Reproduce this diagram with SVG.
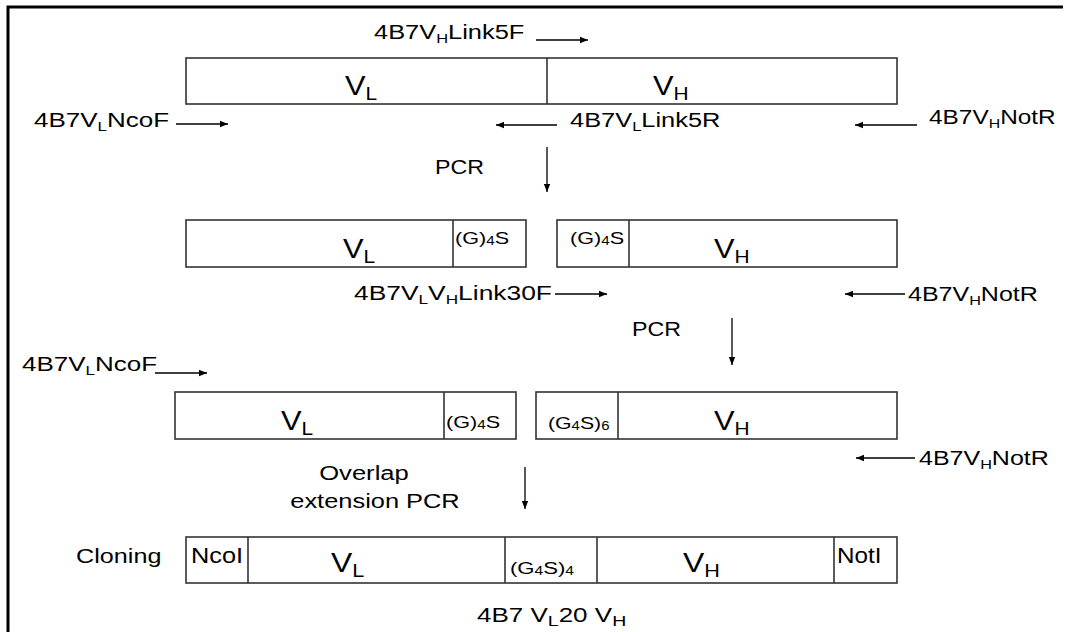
<svg xmlns="http://www.w3.org/2000/svg" width="1066" height="632" viewBox="0 0 1066 632">
<defs>
<marker id="ah" viewBox="0 0 10 10" refX="10" refY="5" markerWidth="11" markerHeight="8" markerUnits="userSpaceOnUse" orient="auto">
<path d="M0,1 L10,5 L0,9 z" fill="#000"/>
</marker>
<style>
.box{fill:#fff;stroke:#333;stroke-width:1.6}
.div{stroke:#333;stroke-width:1.6}
text{font-family:"Liberation Sans",Arial,sans-serif;fill:#000}
.t{font-size:20px}
.big{font-size:28px}
.sm{font-size:17px}
.md{font-size:22px}
.s{font-size:13px}
.bs{font-size:19px}
.ss{font-size:12px}
.c line{stroke:#000;stroke-width:1.3;marker-end:url(#ah)}
</style>
</defs>
<rect width="1066" height="632" fill="#fff"/>
<path d="M8,632 V7 H1063" fill="none" stroke="#000" stroke-width="3"/>

<!-- Row 1 -->
<g id="row1-construct">
<rect class="box" x="186" y="58" width="711" height="46"/>
<line class="div" x1="547" y1="58" x2="547" y2="104"/>
<text class="big" transform="translate(345 95) scale(1.1 1)">V<tspan class="bs" dy="5">L</tspan></text>
<text class="big" transform="translate(653 95) scale(1.1 1)">V<tspan class="bs" dy="5">H</tspan></text>
</g>
<g id="primer-link5f"><text class="t" transform="translate(374 39) scale(1.27 1)">4B7V<tspan class="s" dy="4">H</tspan><tspan dy="-4">Link5F</tspan></text></g>
<g id="primer-ncof1"><text class="t" transform="translate(34 127) scale(1.3 1)">4B7V<tspan class="s" dy="4">L</tspan><tspan dy="-4">NcoF</tspan></text></g>
<g id="primer-link5r"><text class="t" transform="translate(570 127) scale(1.27 1)">4B7V<tspan class="s" dy="4">L</tspan><tspan dy="-4">Link5R</tspan></text></g>
<g id="primer-notr1"><text class="t" transform="translate(929 124) scale(1.22 1)">4B7V<tspan class="s" dy="4">H</tspan><tspan dy="-4">NotR</tspan></text></g>
<g id="pcr1"><text class="t" font-size="22" transform="translate(435 174) scale(1.16 1)">PCR</text></g>

<!-- Row 2 -->
<g id="row2-left">
<rect class="box" x="186" y="220" width="340" height="47"/>
<line class="div" x1="453" y1="220" x2="453" y2="267"/>
<text class="big" transform="translate(343 258) scale(1.1 1)">V<tspan class="bs" dy="5">L</tspan></text>
<text class="sm" transform="translate(455 244) scale(1.27 1)">(G)<tspan class="ss" dy="1">4</tspan><tspan dy="-1">S</tspan></text>
</g>
<g id="row2-right">
<rect class="box" x="557" y="220" width="340" height="47"/>
<line class="div" x1="629" y1="220" x2="629" y2="267"/>
<text class="sm" transform="translate(570 244) scale(1.27 1)">(G)<tspan class="ss" dy="1">4</tspan><tspan dy="-1">S</tspan></text>
<text class="big" transform="translate(714 258) scale(1.1 1)">V<tspan class="bs" dy="5">H</tspan></text>
</g>
<g id="primer-link30f"><text class="t" transform="translate(354 300) scale(1.32 1)">4B7V<tspan class="s" dy="4">L</tspan><tspan dy="-4">V</tspan><tspan class="s" dy="4">H</tspan><tspan dy="-4">Link30F</tspan></text></g>
<g id="primer-notr2"><text class="t" transform="translate(908 301) scale(1.25 1)">4B7V<tspan class="s" dy="4">H</tspan><tspan dy="-4">NotR</tspan></text></g>
<g id="pcr2"><text class="t" font-size="22" transform="translate(632 336) scale(1.16 1)">PCR</text></g>

<!-- Row 3 -->
<g id="primer-ncof2"><text class="t" transform="translate(22 371) scale(1.3 1)">4B7V<tspan class="s" dy="4">L</tspan><tspan dy="-4">NcoF</tspan></text></g>
<g id="row3-left">
<rect class="box" x="175" y="392" width="341" height="47"/>
<line class="div" x1="444" y1="392" x2="444" y2="439"/>
<text class="big" transform="translate(281 430) scale(1.1 1)">V<tspan class="bs" dy="5">L</tspan></text>
<text class="sm" transform="translate(446 428) scale(1.27 1)">(G)<tspan class="ss" dy="1">4</tspan><tspan dy="-1">S</tspan></text>
</g>
<g id="row3-right">
<rect class="box" x="536" y="392" width="361" height="47"/>
<line class="div" x1="618" y1="392" x2="618" y2="439"/>
<text class="sm" transform="translate(548 429) scale(1.25 1)">(G<tspan class="ss" dy="1">4</tspan><tspan dy="-1">S)</tspan><tspan class="ss" dy="1">6</tspan></text>
<text class="big" transform="translate(714 430) scale(1.1 1)">V<tspan class="bs" dy="5">H</tspan></text>
</g>
<g id="primer-notr3"><text class="t" transform="translate(919 465) scale(1.25 1)">4B7V<tspan class="s" dy="4">H</tspan><tspan dy="-4">NotR</tspan></text></g>
<g id="overlap-label">
<text class="t" text-anchor="middle" transform="translate(364 480) scale(1.28 1)">Overlap</text>
<text class="t" text-anchor="middle" transform="translate(375 508) scale(1.27 1)">extension PCR</text>
</g>

<!-- Row 4 -->
<g id="cloning-label"><text class="t" transform="translate(76 563) scale(1.26 1)">Cloning</text></g>
<g id="row4-construct">
<rect class="box" x="186" y="537" width="711" height="46"/>
<line class="div" x1="248" y1="537" x2="248" y2="583"/>
<line class="div" x1="505" y1="537" x2="505" y2="583"/>
<line class="div" x1="597" y1="537" x2="597" y2="583"/>
<line class="div" x1="834" y1="537" x2="834" y2="583"/>
<text class="md" transform="translate(191 563) scale(1.15 1)">NcoI</text>
<text class="big" transform="translate(331 572) scale(1.14 1)">V<tspan class="bs" dy="5">L</tspan></text>
<text class="sm" transform="translate(510 574) scale(1.3 1)">(G<tspan class="ss" dy="1">4</tspan><tspan dy="-1">S)</tspan><tspan class="ss" dy="1">4</tspan></text>
<text class="big" transform="translate(683 572) scale(1.14 1)">V<tspan class="bs" dy="5">H</tspan></text>
<text class="md" transform="translate(837 563) scale(1.1 1)">NotI</text>
</g>
<g id="final-label"><text class="t" font-size="22" transform="translate(477 622) scale(1.3 1)">4B7 V<tspan font-size="15" dy="4">L</tspan><tspan dy="-4">20 V</tspan><tspan font-size="15" dy="4">H</tspan></text></g>

<g id="connectors" class="c">
<line x1="536" y1="40" x2="588" y2="40"/>
<line x1="176" y1="124" x2="228" y2="124"/>
<line x1="557" y1="125" x2="496" y2="125"/>
<line x1="917" y1="125" x2="855" y2="125"/>
<line x1="547" y1="147" x2="547" y2="192"/>
<line x1="555" y1="294" x2="607" y2="294"/>
<line x1="905" y1="294" x2="845" y2="294"/>
<line x1="732" y1="318" x2="732" y2="365"/>
<line x1="155" y1="373" x2="207" y2="373"/>
<line x1="915" y1="458" x2="856" y2="458"/>
<line x1="525" y1="467" x2="525" y2="509"/>
</g>
</svg>
